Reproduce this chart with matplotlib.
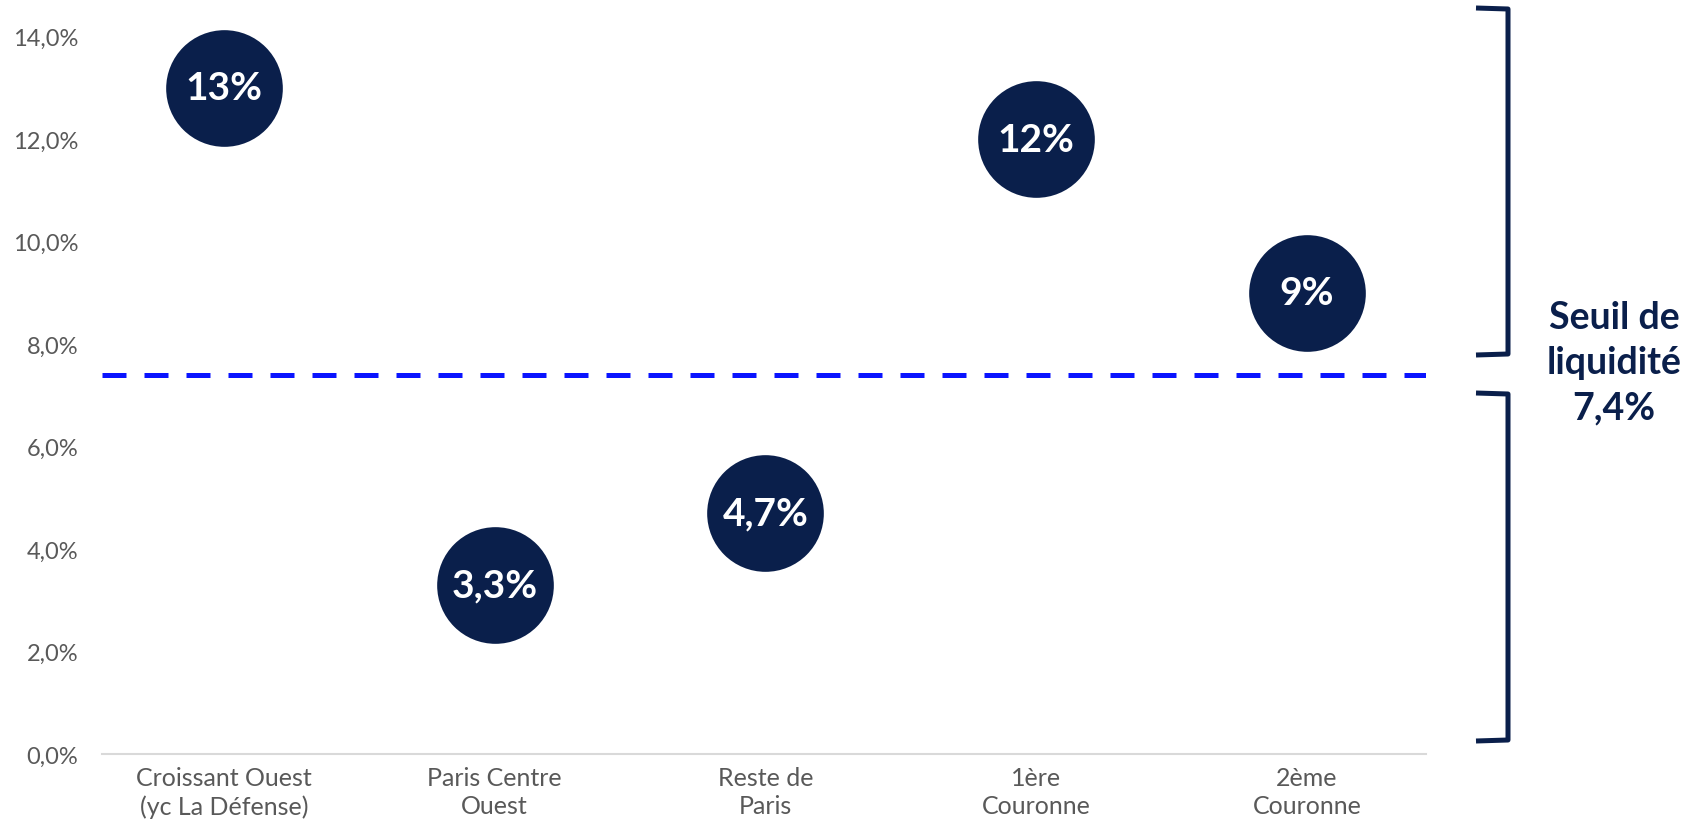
import matplotlib
matplotlib.use("Agg")
import matplotlib.pyplot as plt
from matplotlib.lines import Line2D
from matplotlib.ticker import FuncFormatter

# Data
categories = ["Croissant Ouest\n(yc La Défense)", "Paris Centre\nOuest", "Reste de\nParis",
              "1ère\nCouronne", "2ème\nCouronne"]
values = [13.0, 3.3, 4.7, 12.0, 9.0]
value_labels = ["13%", "3,3%", "4,7%", "12%", "9%"]
threshold = 7.4
threshold_label = "Seuil de\nliquidité\n7,4%"
yticks = [0, 2, 4, 6, 8, 10, 12, 14]

NAVY = "#0A1F4B"
BLUE = "#0A14FF"
GREY_TXT = "#595959"
FONT = ["Lato", "DejaVu Sans"]

W, H, DPI = 1688, 828, 100
fig = plt.figure(figsize=(W / DPI, H / DPI), dpi=DPI)
fig.patch.set_facecolor("white")

def fx(px):
    return px / W

def fy(py):
    return 1 - py / H

ax = fig.add_axes([fx(102), fy(755), fx(1426) - fx(102), fy(37.7) - fy(755)])
ax.set_xlim(-0.45, 4.44)
ax.set_ylim(0, 14)

# Bubbles with their labels
xs = list(range(len(categories)))
ax.scatter(xs, values, s=84 ** 2, color=NAVY, zorder=3, clip_on=False, linewidths=0)
for x, v, lab in zip(xs, values, value_labels):
    ax.text(x, v, lab, ha="center", va="center", color="white", fontsize=28,
            fontweight="bold", family=FONT, zorder=4)

# Liquidity threshold
ln = ax.axhline(threshold, color=BLUE, lw=3.6, zorder=2)
ln.set_dashes([4.8, 3.6])

# Axes styling
for side in ["top", "right", "left"]:
    ax.spines[side].set_visible(False)
ax.spines["bottom"].set_color("#D9D9D9")
ax.spines["bottom"].set_linewidth(1.5)
ax.set_yticks(yticks)
ax.yaxis.set_major_formatter(FuncFormatter(lambda v, _: f"{v:.1f}%".replace(".", ",")))
ax.set_xticks(xs)
ax.set_xticklabels(categories, linespacing=1.25)
ax.tick_params(axis="x", length=0, labelsize=18, labelcolor=GREY_TXT, pad=9)
ax.tick_params(axis="y", length=0, labelsize=17, labelcolor=GREY_TXT, pad=17)
for t in ax.get_xticklabels() + ax.get_yticklabels():
    t.set_family(FONT)

# Brackets on the right
def bracket(top, bottom, x_v=1508, x_t=1476):
    xs_ = [fx(x_t), fx(x_v), fx(x_v), fx(x_t)]
    ys_ = [fy(top), fy(top + 1), fy(bottom - 1), fy(bottom)]
    fig.add_artist(Line2D(xs_, ys_, transform=fig.transFigure, color=NAVY, lw=3.6,
                          solid_joinstyle="round", solid_capstyle="butt"))

bracket(9, 356)
bracket(394, 742)

fig.text(fx(1614), fy(363), threshold_label, ha="center", va="center", color=NAVY,
         fontsize=27, fontweight="bold", family=FONT, linespacing=1.4)

fig.savefig("out.png", dpi=DPI)
